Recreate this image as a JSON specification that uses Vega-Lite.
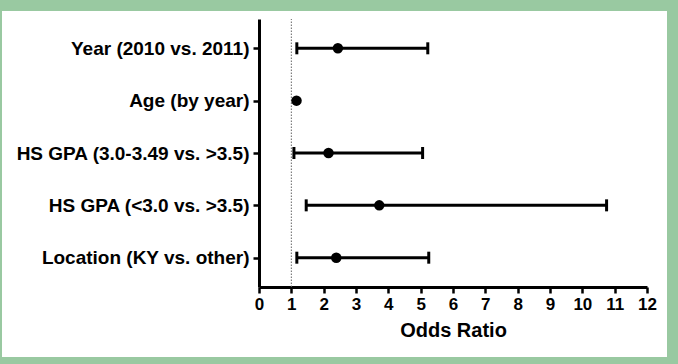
{
  "$schema": "https://vega.github.io/schema/vega-lite/v6.json",
  "autosize": {"type": "none"},
  "width": 665,
  "height": 346,
  "padding": {"left": 2, "top": 11, "right": 11, "bottom": 7},
  "background": "#99c9a1",
  "config": {
    "view": {"fill": "white", "stroke": null},
    "font": "Liberation Sans",
    "axis": {"grid": false, "domainColor": "black", "tickColor": "black", "labelColor": "black", "titleColor": "black", "labelFontWeight": "bold", "titleFontWeight": "bold"}
  },
  "data": {
    "values": [
      {"factor": "Year (2010 vs. 2011)", "or": 2.44, "lo": 1.17, "hi": 5.22},
      {"factor": "Age (by year)", "or": 1.16, "lo": null, "hi": null},
      {"factor": "HS GPA (3.0-3.49 vs. >3.5)", "or": 2.15, "lo": 1.08, "hi": 5.06},
      {"factor": "HS GPA (<3.0 vs. >3.5)", "or": 3.72, "lo": 1.46, "hi": 10.75},
      {"factor": "Location (KY vs. other)", "or": 2.39, "lo": 1.17, "hi": 5.25}
    ]
  },
  "layer": [
    {
      "data": {"values": [{"ref": 1, "y0": 0, "y1": 1}]},
      "mark": {"type": "rule", "color": "#666666", "strokeWidth": 1, "strokeDash": [1.5, 1.5]},
      "encoding": {
        "x": {"field": "ref", "type": "quantitative", "scale": {"domain": [0, 12], "range": [257, 645], "nice": false}},
        "y": {"field": "y0", "type": "quantitative", "scale": {"domain": [0, 1], "range": [276, 8]}, "axis": null},
        "y2": {"field": "y1"}
      }
    },
    {
      "layer": [
        {
          "mark": {"type": "rule", "color": "black", "strokeWidth": 3},
          "encoding": {
            "x": {"field": "lo", "type": "quantitative"},
            "x2": {"field": "hi"}
          }
        },
        {
          "mark": {"type": "tick", "color": "black", "thickness": 3, "size": 12, "opacity": 1},
          "encoding": {"x": {"field": "lo", "type": "quantitative"}}
        },
        {
          "mark": {"type": "tick", "color": "black", "thickness": 3, "size": 12, "opacity": 1},
          "encoding": {"x": {"field": "hi", "type": "quantitative"}}
        },
        {
          "mark": {"type": "circle", "color": "black", "opacity": 1, "size": 110},
          "encoding": {
            "x": {
              "field": "or", "type": "quantitative",
              "scale": {"domain": [0, 12], "range": [257, 645], "nice": false},
              "axis": {"title": "Odds Ratio", "values": [0,1,2,3,4,5,6,7,8,9,10,11,12], "format": "d", "offset": -70, "domainWidth": 3, "tickWidth": 2.5, "tickSize": 6, "labelFontSize": 17, "labelPadding": 3, "titleFontSize": 20, "titlePadding": 8, "labelFlush": false}
            }
          }
        }
      ],
      "encoding": {
        "y": {
          "field": "factor", "type": "nominal", "sort": null,
          "scale": {"type": "point", "domain": ["Year (2010 vs. 2011)", "Age (by year)", "HS GPA (3.0-3.49 vs. >3.5)", "HS GPA (<3.0 vs. >3.5)", "Location (KY vs. other)"], "range": [8, 276], "padding": 0.56},
          "axis": {"title": null, "offset": -257, "domainWidth": 3, "tickWidth": 2.5, "tickSize": 6, "labelFontSize": 19, "labelPadding": 4, "labelLimit": 400}
        }
      }
    }
  ],
  "resolve": {"scale": {"y": "independent"}}
}
